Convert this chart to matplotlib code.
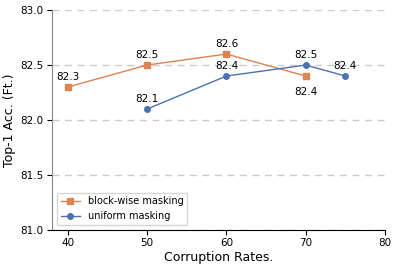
import matplotlib.pyplot as plt

block_x = [40, 50, 60, 70]
block_y = [82.3, 82.5, 82.6, 82.4]
uniform_x = [50, 60, 70, 75]
uniform_y = [82.1, 82.4, 82.5, 82.4]

fig = plt.figure(figsize=(3.99, 2.71), dpi=100)
ax = fig.add_axes([0.13, 0.151, 0.835, 0.812])

ax.plot(block_x, block_y, '-s', color='#dd8452', lw=1, ms=4, label='block-wise masking')
ax.plot(uniform_x, uniform_y, '-o', color='#4c72b0', lw=1, ms=4, label='uniform masking')

for x, y in zip(block_x, block_y):
    off = -14 if x == 70 else 5
    ax.annotate(f'{y}', (x, y), textcoords='offset points', xytext=(0, off),
                ha='center', fontsize=7.5)
for x, y in zip(uniform_x, uniform_y):
    ax.annotate(f'{y}', (x, y), textcoords='offset points', xytext=(0, 5),
                ha='center', fontsize=7.5)

ax.set_xlim(38, 80)
ax.set_ylim(81, 83)
ax.set_yticks([81.0, 81.5, 82.0, 82.5, 83.0])
ax.set_xticks([40, 50, 60, 70, 80])
ax.yaxis.grid(True, linestyle='--', color='#cccccc', lw=1, dashes=(5, 4))
ax.set_axisbelow(True)
ax.spines['top'].set_visible(False)
ax.spines['right'].set_visible(False)
ax.spines['left'].set_color('#888888')
ax.tick_params(labelsize=7.5, length=3.5, pad=2.5)
ax.set_xlabel('Corruption Rates.', fontsize=9, labelpad=2)
ax.set_ylabel('Top-1 Acc. (Ft.)', fontsize=9, labelpad=3)
ax.legend(loc='lower left', fontsize=7)

plt.savefig('out.png')
